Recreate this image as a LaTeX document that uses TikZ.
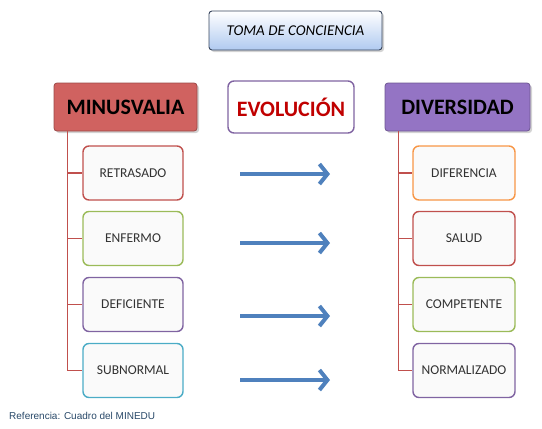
\documentclass[tikz,border=0pt]{standalone}
\usepackage{fontspec}
\setmainfont{Carlito}
\newfontfamily\reffont{Liberation Sans}
\usetikzlibrary{arrows.meta,shadows}

\definecolor{rojo}{RGB}{192,80,77}
\definecolor{rojoclaro}{RGB}{208,98,96}
\definecolor{morado}{RGB}{128,100,162}
\definecolor{moradoclaro}{RGB}{148,116,196}
\definecolor{verde}{RGB}{155,187,89}
\definecolor{cian}{RGB}{75,172,198}
\definecolor{naranja}{RGB}{247,150,70}
\definecolor{azul}{RGB}{79,129,189}
\definecolor{celeste}{RGB}{176,202,240}
\definecolor{pizarra}{RGB}{56,70,94}
\definecolor{rojotexto}{RGB}{192,0,0}
\definecolor{notaazul}{RGB}{40,72,104}
\definecolor{textogris}{RGB}{50,50,50}

\tikzset{
  cabeza/.style={draw=#1!75!black, fill=#1, line width=0.8pt, rounded corners=3pt,
    minimum height=48pt, font=\fontsize{22}{22}\selectfont\bfseries,
    drop shadow={opacity=0.35, shadow xshift=2pt, shadow yshift=-2pt}},
  hijo/.style={draw=#1, line width=1.4pt, fill=gray!4, rounded corners=6pt,
    minimum width=100pt, minimum height=54pt, text=textogris, font=\fontsize{13.5}{13.5}\selectfont},
  rama/.style={draw=rojo, line width=1.4pt},
  flecha/.style={draw=azul, line width=4pt, -{Straight Barb[length=8pt,width=20pt]}}
}

\begin{document}
\begin{tikzpicture}[x=1pt,y=-1pt]

    \useasboundingbox (0,0) rectangle (542,429);

    % 标题
    \node[draw=pizarra, line width=0.9pt, rounded corners=3pt, top color=white, bottom color=celeste,
      minimum width=173pt, minimum height=39pt, font=\fontsize{15}{15}\selectfont\itshape,
      drop shadow={opacity=0.35, shadow xshift=2pt, shadow yshift=-2pt}] (toma) at (295.5,30.5) {TOMA DE CONCIENCIA};

    % 三个大框
    \node[cabeza=rojoclaro, minimum width=143pt] (minus) at (125.5,107) {MINUSVALIA};
    \node[draw=morado, line width=1.4pt, rounded corners=6pt, minimum width=126pt, minimum height=52pt,
      text=rojotexto, font=\fontsize{22}{22}\selectfont\bfseries] (evol) at (291,107) {EVOLUCIÓN};
    \node[cabeza=moradoclaro, minimum width=145pt] (divers) at (457.5,107) {DIVERSIDAD};

    % 左边
    \node[hijo=rojo] (retra) at (133,173) {RETRASADO};
    \node[hijo=verde] (enfer) at (133,238.5) {ENFERMO};
    \node[hijo=morado] (defic) at (133,304.5) {DEFICIENTE};
    \node[hijo=cian] (subno) at (133,370.5) {SUBNORMAL};

    % 右边
    \node[hijo=naranja, minimum width=102pt] (difer) at (464,173) {DIFERENCIA};
    \node[hijo=rojo, minimum width=102pt] (salud) at (464,238.5) {SALUD};
    \node[hijo=verde, minimum width=102pt] (compe) at (464,304.5) {COMPETENTE};
    \node[hijo=morado, minimum width=102pt] (norma) at (464,370.5) {NORMALIZADO};

    % 连线
    \draw[rama] ([xshift=-15pt]retra.west |- minus.south) |- (subno.west);
    \foreach \n in {retra,enfer,defic}
      \draw[rama] ([xshift=-15pt]\n.west) -- (\n.west);
    \draw[rama] ([xshift=-14pt]difer.west |- divers.south) |- (norma.west);
    \foreach \n in {difer,salud,compe}
      \draw[rama] ([xshift=-14pt]\n.west) -- (\n.west);

    % 箭头
    \foreach \y [count=\i] in {174,243,316,380} {
      \coordinate (a\i) at (240,\y);
      \coordinate (b\i) at (330,\y);
      \draw[flecha] (a\i) -- (b\i);
    }

    % 参考
    \node[anchor=west, inner sep=0pt, text=notaazul, font=\reffont\fontsize{10}{10}\selectfont] (nota) at (9,416) {Referencia: Cuadro del MINEDU};

  \end{tikzpicture}
\end{document}
